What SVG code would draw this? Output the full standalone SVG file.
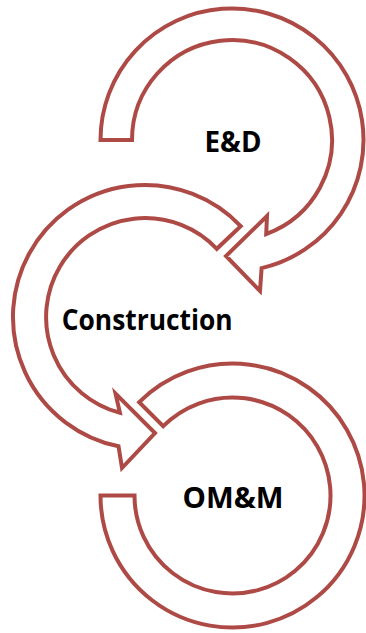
<svg xmlns="http://www.w3.org/2000/svg" width="366" height="633" viewBox="0 0 366 633">
  <style>
    .band { fill: #ffffff; stroke: #AE4A46; stroke-width: 4; stroke-linejoin: miter; stroke-miterlimit: 10; }
    .label { font-family: "Open Sans", Lato, "Liberation Sans", sans-serif; font-weight: bold; font-size: 28px; fill: #000000; text-anchor: middle; font-variant-ligatures: none; }
  </style>
  <rect width="366" height="633" fill="#ffffff"/>
  <g id="node-om">
    <path class="band" d="M100.5,495.5 A132,132 0 1 0 139.2,402.2 L163.2,426.2 A98,98 0 1 1 134.5,495.5 Z"/>
    <text class="label" x="233" y="508" textLength="101" lengthAdjust="spacingAndGlyphs">OM&amp;M</text>
  </g>
  <g id="node-construction">
    <path class="band" d="M240.7,226.1 A132,132 0 1 0 118.5,446.3 L122,468 L155,433 L115.5,393.5 L119.9,412.8 A99,99 0 1 1 216.8,248.8 Z"/>
    <text class="label" x="147.2" y="330" textLength="171" lengthAdjust="spacingAndGlyphs">Construction</text>
  </g>
  <g id="node-ed">
    <path class="band" d="M100.5,140 A131.5,131.5 0 1 1 261.6,268.1 L260,291 L226,256 L267,216 L266.2,234 A100,100 0 1 0 132,140 Z"/>
    <text class="label" x="233" y="151.5" textLength="57" lengthAdjust="spacingAndGlyphs">E&amp;D</text>
  </g>
  <g id="connectors"/>
</svg>
